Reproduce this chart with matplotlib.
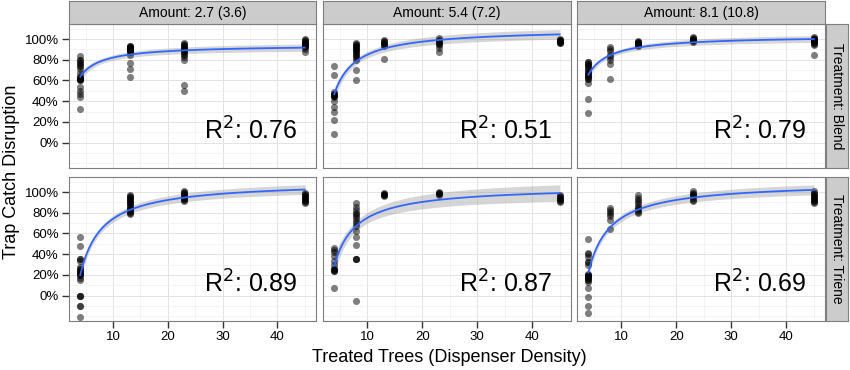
import numpy as np
import matplotlib
matplotlib.use("Agg")
from matplotlib import pyplot as plt

# Constants
FIG_W, FIG_H = 850, 370
FONT = "Liberation Sans"
POINT_ALPHA = 0.5
LINE_COLOR = "#3366FF"
BAND_COLOR = "#999999"
STRIP_FILL = "#CCCCCC"
BORDER = "#7F7F7F"
T_CRIT = 1.99

# Facet labels
amounts = ["Amount: 2.7 (3.6)", "Amount: 5.4 (7.2)", "Amount: 8.1 (10.8)"]
treatments = ["Treatment: Blend", "Treatment: Triene"]
r2_labels = [["0.76", "0.51", "0.79"], ["0.89", "0.87", "0.69"]]

# Trap catch disruption (%) by treated trees, one dict per panel
# (repeated values = overlapping points in the dark clusters)
blend_27 = {
    4: [84, 80, 80, 77, 77, 74, 74, 71, 67, 64, 62, 62, 62, 61, 61, 61, 60, 60,
        54, 50, 47, 44, 32],
    13: [93, 93, 92, 92, 91, 91, 90, 90, 89, 89, 88, 88, 87, 85, 77, 71, 63],
    23: [96, 95, 94, 93, 92, 91, 90, 89, 88, 87, 86, 85, 83, 80, 56, 50],
    45: [100, 99, 98, 97, 96, 96, 95, 95, 94, 94, 93, 93, 92, 90, 87],
}
blend_54 = {
    4: [74, 65, 49, 47, 47, 46, 45, 45, 44, 40, 34, 30, 22, 8],
    8: [96, 95, 94, 93, 92, 91, 90, 89, 88, 87, 86, 85, 84, 82, 80, 70, 60],
    13: [99, 98, 97, 96, 95, 94, 93, 81],
    23: [101, 99, 98, 97, 96, 95, 94, 91, 87],
    45: [100, 99, 99, 98, 98, 97, 97, 96, 96],
}
blend_81 = {
    4: [78, 78, 76, 76, 74, 74, 71, 71, 68, 68, 66, 66, 64, 64, 63, 61, 61, 58,
        42, 29],
    8: [92, 90, 88, 85, 83, 80, 76, 61],
    13: [98, 97, 97, 96, 96, 95, 95, 94, 93],
    23: [102, 101, 100, 100, 99, 99, 98, 97],
    45: [102, 101, 100, 100, 99, 99, 98, 98, 97, 96, 95, 94, 85],
}
triene_27 = {
    4: [57, 48, 35, 35, 33, 28, 26, 26, 24, 24, 22, 22, 20, 20, 17, 15, 0, 0, 0,
        -10, -10, -21],
    13: [97, 96, 95, 94, 93, 92, 91, 90, 89, 88, 87, 86, 85, 84, 83, 82, 81, 80,
         79],
    23: [101, 100, 99, 98, 97, 96, 95, 94, 93, 92, 91],
    45: [99, 98, 97, 96, 95, 94, 93, 92, 91, 90, 89],
}
triene_54 = {
    4: [46, 44, 42, 38, 33, 30, 26, 26, 25, 24, 24, 7],
    8: [89, 86, 83, 80, 79, 77, 75, 72, 70, 67, 62, 57, 49, 35, 35, 35, -5],
    13: [99, 98, 98, 97, 97, 96],
    23: [100, 99, 99, 98, 97],
    45: [97, 96, 95, 94, 93, 92, 91, 90],
}
triene_81 = {
    4: [55, 41, 40, 37, 32, 32, 30, 21, 20, 20, 19, 19, 18, 17, 17, 15, 15, 13,
        7, -1, -10, -17],
    8: [85, 83, 81, 79, 77, 73, 64],
    13: [97, 94, 92, 90, 88, 86, 85, 83, 81, 80],
    23: [101, 99, 98, 97, 96, 94, 92, 91],
    45: [101, 99, 98, 97, 96, 95, 94, 93, 92, 91, 90, 89],
}
panels = [[blend_27, blend_54, blend_81], [triene_27, triene_54, triene_81]]

y_ticks = [0, 0.2, 0.4, 0.6, 0.8, 1.0]
x_ticks = [10, 20, 30, 40]

# Pixel layout
COL_X = [(69, 316), (323, 571), (577, 825)]
ROW_Y = [(24, 168), (177, 321)]


def px_axes(fig, x0, x1, y0, y1):
    """Add axes given a pixel box (top-left origin)."""
    return fig.add_axes([x0 / FIG_W, 1 - y1 / FIG_H, (x1 - x0) / FIG_W, (y1 - y0) / FIG_H])


def to_xy(data):
    xs, ys = [], []
    for k, vals in data.items():
        xs += [k] * len(vals)
        ys += [v / 100 for v in vals]
    return np.array(xs, float), np.array(ys, float)


def fit_inverse(x, y):
    """lm(y ~ I(1/x)) with a confidence band."""
    X = np.column_stack([np.ones_like(x), 1 / x])
    beta, *_ = np.linalg.lstsq(X, y, rcond=None)
    resid = y - X @ beta
    s2 = resid @ resid / (len(y) - 2)
    cov = s2 * np.linalg.inv(X.T @ X)
    xg = np.linspace(x.min(), x.max(), 80)
    Xg = np.column_stack([np.ones_like(xg), 1 / xg])
    yg = Xg @ beta
    se = np.sqrt(np.einsum("ij,jk,ik->i", Xg, cov, Xg))
    return xg, yg, yg - T_CRIT * se, yg + T_CRIT * se


def style_panel(ax, show_x, show_y):
    ax.set_facecolor("white")
    ax.set_xlim(1.95, 47.05)
    ax.set_ylim(-0.245, 1.145)
    ax.set_xticks(x_ticks)
    ax.set_xticks([5, 15, 25, 35, 45], minor=True)
    ax.set_yticks(y_ticks)
    ax.set_yticks([-0.2, -0.1, 0.1, 0.3, 0.5, 0.7, 0.9, 1.1], minor=True)
    ax.grid(which="major", color="#E3E3E3", lw=0.7)
    ax.grid(which="minor", color="#F0F0F0", lw=0.5)
    ax.set_axisbelow(True)
    for sp in ax.spines.values():
        sp.set_color(BORDER)
        sp.set_linewidth(0.8)
    ax.tick_params(which="minor", length=0)
    ax.tick_params(which="major", length=5, width=1.0, color="#333333",
                   labelsize=9.5, pad=2.5)
    if show_y:
        ax.set_yticklabels([f"{int(round(t * 100))}%" for t in y_ticks],
                           fontfamily=FONT)
    else:
        ax.tick_params(axis="y", which="major", length=0, labelleft=False)
    if show_x:
        ax.set_xticklabels([str(t) for t in x_ticks], fontfamily=FONT)
    else:
        ax.tick_params(axis="x", which="major", length=0, labelbottom=False)


def strip(fig, box, text, rotation=0):
    sax = px_axes(fig, *box)
    sax.set_facecolor(STRIP_FILL)
    sax.set_xticks([])
    sax.set_yticks([])
    for sp in sax.spines.values():
        sp.set_color(BORDER)
        sp.set_linewidth(0.8)
    sax.text(0.5, 0.5, text, ha="center", va="center", rotation=rotation,
             fontsize=10, fontfamily=FONT, transform=sax.transAxes)


def main():
    fig = plt.figure(figsize=(FIG_W / 100, FIG_H / 100), dpi=100)
    fig.patch.set_facecolor("white")

    for r, (y0, y1) in enumerate(ROW_Y):
        for c, (x0, x1) in enumerate(COL_X):
            ax = px_axes(fig, x0, x1, y0, y1)
            style_panel(ax, show_x=(r == 1), show_y=(c == 0))
            x, y = to_xy(panels[r][c])
            xg, yg, lo, hi = fit_inverse(x, y)
            ax.fill_between(xg, lo, hi, color=BAND_COLOR, alpha=0.4, lw=0, zorder=2)
            ax.scatter(x, y, s=26, color="black", alpha=POINT_ALPHA, lw=0, zorder=3)
            ax.plot(xg, yg, color=LINE_COLOR, lw=1.3, zorder=4)
            ax.text(35.2, 0.115, "R$^{2}$: " + r2_labels[r][c], ha="center",
                    va="center", fontsize=18, fontfamily=FONT, zorder=5)
            if r == 0:
                strip(fig, (x0, x1, 1, 24), amounts[c])
        strip(fig, (826, 848, y0, y1), treatments[r], rotation=-90)

    fig.text(449 / FIG_W, 1 - 357 / FIG_H, "Treated Trees (Dispenser Density)",
             ha="center", va="center", fontsize=13, fontfamily=FONT)
    fig.text(12 / FIG_W, 1 - 172 / FIG_H, "Trap Catch Disruption", ha="center",
             va="center", rotation=90, fontsize=13, fontfamily=FONT)

    fig.savefig("out.png", dpi=100)
    plt.close(fig)


if __name__ == "__main__":
    main()
